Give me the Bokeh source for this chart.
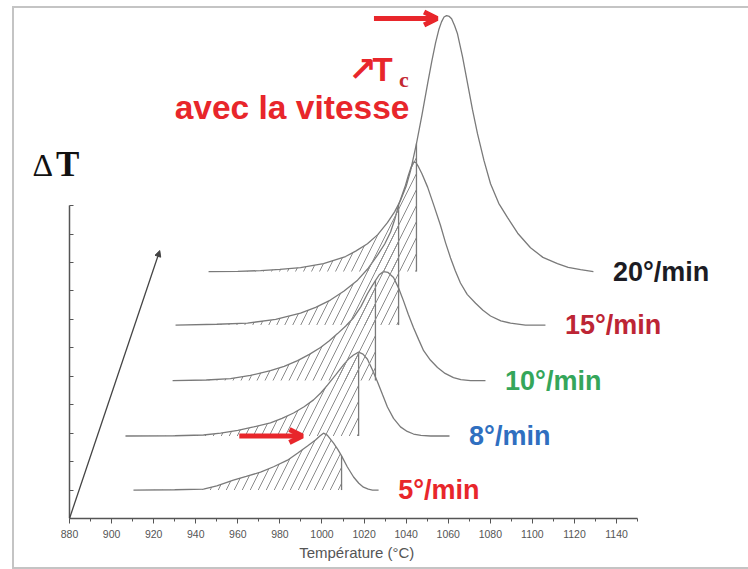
import numpy as np
from bokeh.plotting import figure
from bokeh.models import Range1d, LinearAxis, FixedTicker, Arrow, NormalHead, OpenHead, Label
from bokeh.layouts import column
from bokeh.embed import file_html
from bokeh.resources import INLINE

# ---------------- data ----------------
rates = ["5°/min", "8°/min", "10°/min", "15°/min", "20°/min"]
label_colors = ["#e8262b", "#2f6fc0", "#35a65a", "#bd2535", "#1c1c24"]
baselines = [1.0, 2.9, 4.85, 6.8, 8.68]          # vertical offset of each curve
cut_temps = [1009.3, 1017.4, 1025.4, 1036.4, 1044.9]  # end of hatched area

temp_5 = [910.4, 930, 943.7, 950, 957.9, 964, 970.8, 977, 983.6, 988.5, 993.1, 996.9, 999, 1000.7,
          1002.5, 1005.5, 1007.5, 1009.3, 1012, 1015.0, 1017.5, 1019.7, 1022, 1024.0, 1026.9]
dT_5 = [0, 0.01, 0.03, 0.15, 0.35, 0.48, 0.63, 0.82, 1.05, 1.3, 1.55, 1.76, 1.9, 2.0,
        1.93, 1.65, 1.43, 1.2, 0.82, 0.46, 0.24, 0.1, 0.03, 0, 0]

temp_8 = [906.6, 930, 943.7, 951.8, 960, 967.5, 975.5, 981, 986.5, 991.5, 996.0, 999.5, 1002.6, 1006.5,
          1010.2, 1012.8, 1015.0, 1017.4, 1019.5, 1021.6, 1024, 1026.4, 1028.8, 1031.1, 1034, 1037.3,
          1040.5, 1043.5, 1047, 1051.6, 1060.6]
dT_8 = [0, 0.01, 0.035, 0.1, 0.2, 0.32, 0.46, 0.62, 0.81, 1.03, 1.27, 1.52, 1.79, 2.15,
        2.5, 2.72, 2.85, 2.95, 2.88, 2.7, 2.32, 1.9, 1.45, 1.02, 0.62, 0.32,
        0.16, 0.07, 0.02, 0, 0]

temp_10 = [929.0, 945, 956.5, 966, 975.5, 982, 988.4, 994, 999.3, 1003.5, 1007.4, 1011.3, 1015.0, 1018.5,
           1021.6, 1023.6, 1025.4, 1027.2, 1029.2, 1031.4, 1034.0, 1036.4, 1038.7, 1041, 1043.5, 1046,
           1048.3, 1051.5, 1054.9, 1058.5, 1062.5, 1066, 1070.6, 1077.7]
dT_10 = [0, 0.02, 0.07, 0.18, 0.35, 0.5, 0.7, 0.92, 1.16, 1.4, 1.65, 1.92, 2.21, 2.6,
         3.05, 3.3, 3.51, 3.72, 3.83, 3.8, 3.62, 3.25, 2.81, 2.33, 1.86, 1.43,
         1.05, 0.72, 0.46, 0.25, 0.1, 0.03, 0, 0]

temp_15 = [930.4, 950, 964.6, 978, 989.8, 997, 1004.0, 1010.5, 1016.9, 1022, 1026.4, 1029.8, 1032.6, 1034.6,
           1036.4, 1038.2, 1039.7, 1041, 1042.1, 1043.5, 1044.6, 1045.6, 1047.5, 1050.2, 1053.2, 1056.3,
           1058.7, 1061.1, 1063.4, 1065.8, 1069, 1073.0, 1076.5, 1080.1, 1085, 1089.6, 1096.7, 1106.2]
dT_15 = [0, 0.03, 0.07, 0.2, 0.42, 0.62, 0.88, 1.2, 1.58, 2.0, 2.46, 2.85, 3.27, 3.72,
         4.22, 4.6, 4.92, 5.25, 5.5, 5.73, 5.72, 5.6, 5.32, 4.85, 4.2, 3.51,
         2.9, 2.36, 1.9, 1.48, 1.08, 0.77, 0.52, 0.32, 0.15, 0.07, 0, 0]

temp_20 = [946.1, 960, 970.8, 980, 989.8, 1000.7, 1011.2, 1016, 1021.6, 1026.5, 1031.1, 1034.5, 1037.3, 1040,
           1042.1, 1044.9, 1047.5, 1050.2, 1052.2, 1054.0, 1055.5, 1056.8, 1058, 1059.2, 1060.5, 1061.6,
           1063, 1064.4, 1066.8, 1069.2, 1071.5, 1073.9, 1077, 1080.1, 1084, 1088.2, 1093, 1099.1,
           1105, 1111.9, 1117, 1122.9, 1129.0]
dT_20 = [0, 0.01, 0.035, 0.08, 0.14, 0.28, 0.53, 0.72, 0.98, 1.3, 1.72, 2.1, 2.5, 3.0,
         3.55, 4.5, 5.5, 6.61, 7.4, 8.05, 8.5, 8.78, 8.95, 9.0, 8.97, 8.89,
         8.65, 8.36, 7.55, 6.61, 5.7, 4.85, 3.9, 3.09, 2.4, 1.9, 1.35, 0.84,
         0.5, 0.28, 0.15, 0.07, 0]

x_ticks = list(range(880, 1141, 20))
x_minor = list(range(890, 1151, 20))
y_ticks = list(range(0, 12))
depth_axis_T = [880, 922.9]
depth_axis_dT = [0, 9.42]

temps = [temp_5, temp_8, temp_10, temp_15, temp_20]
signals = [dT_5, dT_8, dT_10, dT_15, dT_20]

# ---------------- figure ----------------
p = figure(frame_width=722, frame_height=510, output_backend="svg", toolbar_location=None,
           x_range=Range1d(853.86, 1197.0), y_range=Range1d(0, 17.93),
           min_border_left=0, min_border_right=12, min_border_top=0, min_border_bottom=49,
           x_axis_location=None, y_axis_location=None)
p.grid.visible = False
p.outline_line_color = None
p.background_fill_color = "white"
p.border_fill_color = "white"

xaxis = LinearAxis(bounds=(880, 1150),
                   ticker=FixedTicker(ticks=x_ticks, minor_ticks=x_minor),
                   axis_label="Température (°C)" + "\u00a0" * 9,
                   axis_line_color="#555555", axis_line_width=1.5,
                   major_tick_line_color="#555555", major_tick_out=5, major_tick_in=0,
                   minor_tick_line_color="#555555", minor_tick_out=3, minor_tick_in=0,
                   major_label_text_font="Liberation Sans", major_label_text_font_size="10.5px",
                   major_label_text_color="#555555", major_label_standoff=6,
                   axis_label_text_font="Liberation Sans", axis_label_text_font_size="15px",
                   axis_label_text_font_style="normal", axis_label_text_color="#555555",
                   axis_label_standoff=3)
p.add_layout(xaxis, "below")

yaxis = LinearAxis(bounds=(0, 11), ticker=FixedTicker(ticks=y_ticks), fixed_location=880,
                   axis_line_color="#555555", axis_line_width=1.5,
                   major_tick_line_color="#555555", major_tick_in=0, major_tick_out=4,
                   major_label_text_alpha=0, major_label_text_font_size="0px",
                   major_label_standoff=0)
p.add_layout(yaxis, "right")

line_col = "#7a7a7a"
for T, s, base, cut in zip(temps, signals, baselines, cut_temps):
    T = np.array(T)
    y = base + np.array(s)
    m = T <= cut + 1e-9
    p.varea(x=T[m], y1=np.full(m.sum(), base), y2=y[m], fill_alpha=0,
            hatch_pattern="/", hatch_color="#8a8a8a", hatch_scale=16, hatch_weight=1)
    p.line(T, y, line_color=line_col, line_width=1.3)
    ycut = y[m][-1]
    p.segment(x0=[cut], y0=[base], x1=[cut], y1=[ycut], line_color=line_col, line_width=1.3)

# depth axis
p.add_layout(Arrow(x_start=depth_axis_T[0], y_start=depth_axis_dT[0],
                   x_end=depth_axis_T[1], y_end=depth_axis_dT[1],
                   line_color="#444444", line_width=1.3,
                   end=NormalHead(size=6, fill_color="#444444", line_color="#444444")))

# rate labels
for T, base, txt, col in zip(temps, baselines, rates, label_colors):
    p.add_layout(Label(x=T[-1] + 9.3, y=base, text=txt, text_color=col,
                       text_font="Liberation Sans", text_font_style="bold",
                       text_font_size="27px", text_baseline="middle", text_align="left"))

# red arrows pointing at peaks (5 and 20 °/min)
red = "#e8262b"
for T, s, base, gap in [(temp_20, dT_20, baselines[4], 4.5), (temp_5, dT_5, baselines[0], 10.0)]:
    k = int(np.argmax(s))
    xe = T[k] - gap
    ye = base + s[k] - 0.1
    p.add_layout(Arrow(x_start=xe - 30, y_start=ye, x_end=xe, y_end=ye,
                       line_color=red, line_width=5,
                       end=OpenHead(size=13, line_color=red, line_width=5)))

p.add_layout(Label(x=930.0, y=14.45, text="avec la vitesse", text_color=red,
                   text_font="Liberation Sans", text_font_style="bold", text_font_size="33.5px",
                   text_baseline="middle"))
p.add_layout(Label(x=1012.5, y=15.8, text="↗", text_color=red,
                   text_font="DejaVu Sans", text_font_style="bold", text_font_size="34px",
                   text_baseline="middle"))
p.add_layout(Label(x=1024.0, y=15.78, text="T", text_color=red,
                   text_font="Liberation Sans", text_font_style="bold", text_font_size="33px",
                   text_baseline="middle"))
p.add_layout(Label(x=1036.6, y=15.42, text="c", text_color="#c42a32",
                   text_font="Liberation Serif", text_font_style="bold", text_font_size="22px",
                   text_baseline="middle"))
p.add_layout(Label(x=862.4, y=12.44, text="Δ", text_color="#111111",
                   text_font="Liberation Serif", text_font_size="32px",
                   text_baseline="middle"))
p.add_layout(Label(x=873.6, y=12.45, text="T", text_color="#111111",
                   text_font="Liberation Serif", text_font_style="bold", text_font_size="35px",
                   text_baseline="middle"))

layout = column(p, margin=(6, 0, 0, 12),
                styles={"box-sizing": "content-box",
                        "overflow": "visible",
                        "border-left": "2px solid #c4c4c4",
                        "border-top": "2px solid #c4c4c4",
                        "border-bottom": "2px solid #c4c4c4"})

open("out.html", "w").write(file_html(layout, INLINE))
